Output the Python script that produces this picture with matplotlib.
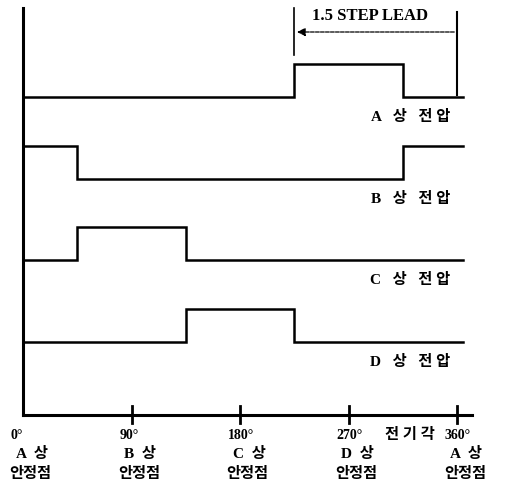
import matplotlib
matplotlib.use("Agg")
import matplotlib.pyplot as plt
import numpy as np

# data
phases = ["A", "B", "C", "D"]
phase_labels = ["A   상   전 압", "B   상   전 압", "C   상   전 압", "D   상   전 압"]
edges = [0, 45, 135, 225, 315, 365]   # electrical degrees
states = {
    "A": [0, 0, 0, 1, 0],
    "B": [1, 0, 0, 0, 1],
    "C": [0, 1, 0, 0, 0],
    "D": [0, 0, 1, 0, 0],
}
tick_angles = [0, 90, 180, 270, 360]
tick_labels = ["0°", "90°", "180°", "270°", "360°"]
stable_phase = ["A  상", "B  상", "C  상", "D  상", "A  상"]
lead_start, lead_end = 225, 360
lead_text = "1.5 STEP LEAD"

fam = ["Liberation Serif", "Noto Sans CJK KR"]

fig = plt.figure(figsize=(5.05, 4.9), dpi=100)
ax = fig.add_axes([0, 0, 1, 1])
px = 1.2056  # pixels per degree
x0 = 23
ax.set_xlim(-x0 / px, (505 - x0) / px)
ax.set_ylim(490, 0)   # y in pixel rows
ax.axis("off")

base = [97, 179, 260, 342]
amp = 33
for i, p in enumerate(phases):
    s = states[p] + [states[p][-1]]
    y = base[i] - amp * np.array(s)
    ax.step(edges, y, where="post", color="black", lw=1.8, solid_joinstyle="miter")
    ax.text(354, base[i] + 20, phase_labels[i], ha="right", va="center",
            fontsize=11, fontweight="bold", family=fam)

# axes
ax.plot([0, 0], [8, 415], color="black", lw=2.2)
ax.plot([0, (472 - x0) / px], [415, 415], color="black", lw=2.2)
for a in tick_angles[1:]:
    ax.plot([a, a], [406, 423], color="black", lw=2)

for a, t, ph in zip(tick_angles, tick_labels, stable_phase):
    ax.text(a - 10, 435, t, ha="left", va="center", fontsize=10,
            fontweight="bold", family=fam)
    ax.text(a - 6, 454, ph, ha="left", va="center", fontsize=11,
            fontweight="bold", family=fam)
    ax.text(a - 11, 474, "안정점", ha="left", va="center", fontsize=11,
            fontweight="bold", family=fam)
ax.text(321, 435, "전 기 각", ha="center", va="center", fontsize=11,
        fontweight="bold", family=fam)

# lead annotation
ax.plot([lead_start, lead_start], [8, 55], color="black", lw=1.2)
ax.plot([lead_end, lead_end], [12, 95], color="black", lw=1.5)
ax.annotate("", xy=(lead_start, 32), xytext=(lead_end, 32),
            arrowprops=dict(arrowstyle="-|>", color="black", lw=0.9,
                            ls=(0, (3, 1)), mutation_scale=12))
ax.text(240, 16, lead_text, ha="left", va="center", fontsize=12,
        fontweight="bold", family=fam)

fig.savefig("out.png", dpi=100)
